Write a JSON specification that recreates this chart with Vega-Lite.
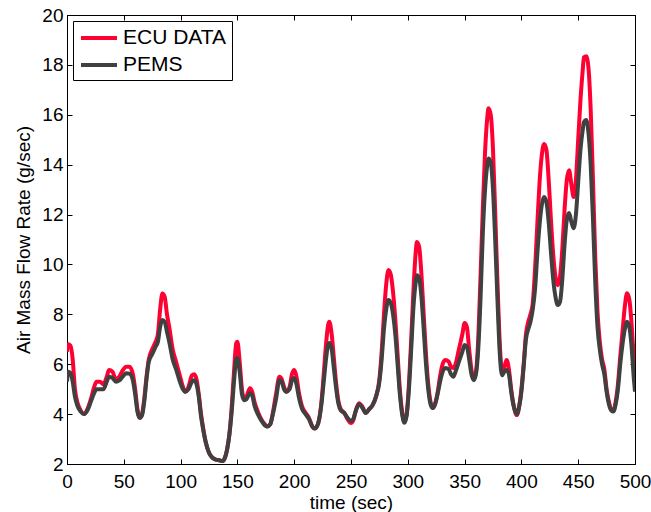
{
  "$schema": "https://vega.github.io/schema/vega-lite/v6.json",
  "autosize": "none",
  "width": 568,
  "height": 449,
  "padding": {"left": 67, "top": 15, "right": 16, "bottom": 48},
  "background": "white",
  "config": {
    "font": "Liberation Sans",
    "view": {"stroke": "black", "strokeWidth": 1},
    "axis": {
      "labelFont": "Liberation Sans",
      "titleFont": "Liberation Sans",
      "labelFontSize": 19,
      "titleFontSize": 19,
      "titleFontWeight": "normal",
      "labelColor": "black",
      "titleColor": "black",
      "domainColor": "black",
      "tickColor": "black",
      "tickSize": -5,
      "grid": false
    },
    "legend": {
      "labelFont": "Liberation Sans",
      "labelFontSize": 21,
      "labelColor": "black",
      "symbolType": "M-1.8,0H1.8",
      "symbolStrokeWidth": 4,
      "symbolSize": 400,
      "strokeColor": "black",
      "fillColor": "white",
      "padding": 5,
      "rowPadding": 5,
      "symbolOffset": 9,
      "labelOffset": 12
    }
  },
  "data": {
    "values": [
      {"t":0,"ecu":6.5,"pems":5.3},{"t":1,"ecu":6.8,"pems":5.7},{"t":3,"ecu":6.75,"pems":5.65},{"t":5,"ecu":6.2,"pems":5.3},{"t":7,"ecu":5.0,"pems":4.7},{"t":9,"ecu":4.5,"pems":4.35},{"t":12,"ecu":4.15,"pems":4.1},{"t":15,"ecu":4.0,"pems":4.0},{"t":18,"ecu":4.2,"pems":4.15},{"t":21,"ecu":4.6,"pems":4.5},{"t":24,"ecu":5.1,"pems":4.85},{"t":26,"ecu":5.3,"pems":5.0},{"t":29,"ecu":5.3,"pems":5.0},{"t":32,"ecu":5.2,"pems":5.0},{"t":35,"ecu":5.5,"pems":5.3},{"t":37,"ecu":5.77,"pems":5.5},{"t":40,"ecu":5.7,"pems":5.45},{"t":43,"ecu":5.4,"pems":5.3},{"t":46,"ecu":5.5,"pems":5.35},{"t":49,"ecu":5.75,"pems":5.5},{"t":52,"ecu":5.9,"pems":5.64},{"t":55,"ecu":5.9,"pems":5.62},{"t":58,"ecu":5.6,"pems":5.35},{"t":60,"ecu":5.0,"pems":4.8},{"t":62,"ecu":4.2,"pems":4.1},{"t":64,"ecu":3.85,"pems":3.85},{"t":66,"ecu":4.0,"pems":3.95},{"t":68,"ecu":4.6,"pems":4.5},{"t":70,"ecu":5.5,"pems":5.4},{"t":72,"ecu":6.2,"pems":6.1},{"t":75,"ecu":6.6,"pems":6.4},{"t":78,"ecu":6.9,"pems":6.7},{"t":80,"ecu":7.2,"pems":6.9},{"t":82,"ecu":8.2,"pems":7.5},{"t":84,"ecu":8.84,"pems":7.77},{"t":86,"ecu":8.7,"pems":7.7},{"t":88,"ecu":8.0,"pems":7.3},{"t":90,"ecu":7.5,"pems":6.9},{"t":93,"ecu":6.6,"pems":6.2},{"t":96,"ecu":6.1,"pems":5.8},{"t":99,"ecu":5.6,"pems":5.35},{"t":102,"ecu":5.1,"pems":5.0},{"t":104,"ecu":4.9,"pems":4.9},{"t":107,"ecu":5.1,"pems":5.0},{"t":110,"ecu":5.55,"pems":5.3},{"t":112,"ecu":5.6,"pems":5.36},{"t":114,"ecu":5.4,"pems":5.2},{"t":116,"ecu":4.8,"pems":4.7},{"t":118,"ecu":4.0,"pems":3.9},{"t":120,"ecu":3.4,"pems":3.35},{"t":122,"ecu":2.9,"pems":2.9},{"t":125,"ecu":2.45,"pems":2.45},{"t":128,"ecu":2.25,"pems":2.25},{"t":131,"ecu":2.18,"pems":2.18},{"t":134,"ecu":2.15,"pems":2.15},{"t":137,"ecu":2.12,"pems":2.12},{"t":139,"ecu":2.25,"pems":2.25},{"t":141,"ecu":2.6,"pems":2.6},{"t":143,"ecu":3.2,"pems":3.2},{"t":145,"ecu":4.3,"pems":4.1},{"t":147,"ecu":5.7,"pems":5.3},{"t":149,"ecu":6.85,"pems":6.2},{"t":150,"ecu":6.9,"pems":6.25},{"t":152,"ecu":6.1,"pems":5.7},{"t":154,"ecu":5.0,"pems":4.8},{"t":156,"ecu":4.6,"pems":4.56},{"t":158,"ecu":4.7,"pems":4.6},{"t":161,"ecu":5.04,"pems":4.84},{"t":163,"ecu":4.9,"pems":4.75},{"t":165,"ecu":4.5,"pems":4.35},{"t":168,"ecu":4.1,"pems":4.0},{"t":171,"ecu":3.8,"pems":3.75},{"t":174,"ecu":3.6,"pems":3.55},{"t":176,"ecu":3.5,"pems":3.5},{"t":179,"ecu":3.6,"pems":3.6},{"t":181,"ecu":4.0,"pems":3.95},{"t":184,"ecu":4.8,"pems":4.6},{"t":187,"ecu":5.5,"pems":5.36},{"t":189,"ecu":5.4,"pems":5.3},{"t":191,"ecu":5.1,"pems":5.0},{"t":193,"ecu":4.9,"pems":4.9},{"t":196,"ecu":5.1,"pems":5.0},{"t":198,"ecu":5.6,"pems":5.35},{"t":200,"ecu":5.77,"pems":5.45},{"t":202,"ecu":5.5,"pems":5.2},{"t":204,"ecu":4.9,"pems":4.7},{"t":207,"ecu":4.3,"pems":4.2},{"t":210,"ecu":4.05,"pems":4.0},{"t":213,"ecu":3.85,"pems":3.8},{"t":216,"ecu":3.5,"pems":3.5},{"t":218,"ecu":3.42,"pems":3.42},{"t":220,"ecu":3.5,"pems":3.5},{"t":222,"ecu":3.8,"pems":3.8},{"t":224,"ecu":4.5,"pems":4.4},{"t":226,"ecu":5.6,"pems":5.3},{"t":228,"ecu":6.8,"pems":6.2},{"t":230,"ecu":7.6,"pems":6.8},{"t":231,"ecu":7.7,"pems":6.85},{"t":233,"ecu":7.2,"pems":6.6},{"t":235,"ecu":6.2,"pems":5.8},{"t":237,"ecu":5.2,"pems":5.0},{"t":239,"ecu":4.5,"pems":4.4},{"t":241,"ecu":4.2,"pems":4.15},{"t":244,"ecu":4.05,"pems":4.05},{"t":247,"ecu":3.8,"pems":3.85},{"t":250,"ecu":3.64,"pems":3.72},{"t":252,"ecu":3.75,"pems":3.8},{"t":254,"ecu":4.1,"pems":4.1},{"t":257,"ecu":4.44,"pems":4.4},{"t":260,"ecu":4.3,"pems":4.25},{"t":263,"ecu":4.04,"pems":4.04},{"t":266,"ecu":4.2,"pems":4.2},{"t":269,"ecu":4.36,"pems":4.36},{"t":272,"ecu":4.7,"pems":4.7},{"t":275,"ecu":5.4,"pems":5.3},{"t":277,"ecu":6.5,"pems":6.2},{"t":279,"ecu":8.0,"pems":7.4},{"t":281,"ecu":9.2,"pems":8.2},{"t":283,"ecu":9.78,"pems":8.57},{"t":285,"ecu":9.6,"pems":8.45},{"t":287,"ecu":8.9,"pems":8.0},{"t":289,"ecu":7.8,"pems":7.2},{"t":291,"ecu":6.4,"pems":6.0},{"t":293,"ecu":5.0,"pems":4.8},{"t":295,"ecu":4.1,"pems":4.0},{"t":297,"ecu":3.7,"pems":3.65},{"t":299,"ecu":4.0,"pems":3.95},{"t":301,"ecu":5.2,"pems":5.0},{"t":303,"ecu":7.0,"pems":6.6},{"t":305,"ecu":9.0,"pems":8.3},{"t":307,"ecu":10.5,"pems":9.3},{"t":308,"ecu":10.9,"pems":9.57},{"t":310,"ecu":10.7,"pems":9.45},{"t":312,"ecu":9.6,"pems":8.7},{"t":314,"ecu":8.0,"pems":7.4},{"t":316,"ecu":6.4,"pems":6.0},{"t":318,"ecu":5.2,"pems":5.0},{"t":320,"ecu":4.5,"pems":4.4},{"t":322,"ecu":4.24,"pems":4.24},{"t":324,"ecu":4.4,"pems":4.4},{"t":326,"ecu":4.8,"pems":4.75},{"t":328,"ecu":5.4,"pems":5.2},{"t":330,"ecu":5.9,"pems":5.6},{"t":333,"ecu":6.17,"pems":5.85},{"t":336,"ecu":6.1,"pems":5.8},{"t":338,"ecu":5.9,"pems":5.6},{"t":340,"ecu":5.85,"pems":5.5},{"t":342,"ecu":6.0,"pems":5.7},{"t":345,"ecu":6.6,"pems":6.1},{"t":348,"ecu":7.2,"pems":6.5},{"t":350,"ecu":7.65,"pems":6.77},{"t":352,"ecu":7.5,"pems":6.7},{"t":354,"ecu":6.6,"pems":6.2},{"t":356,"ecu":5.8,"pems":5.6},{"t":358,"ecu":5.4,"pems":5.36},{"t":360,"ecu":5.7,"pems":5.6},{"t":362,"ecu":7.0,"pems":6.6},{"t":364,"ecu":9.5,"pems":8.6},{"t":366,"ecu":12.2,"pems":11.2},{"t":368,"ecu":14.5,"pems":13.0},{"t":370,"ecu":15.9,"pems":14.0},{"t":371,"ecu":16.26,"pems":14.25},{"t":373,"ecu":16.0,"pems":14.1},{"t":375,"ecu":14.6,"pems":13.0},{"t":377,"ecu":12.0,"pems":10.9},{"t":379,"ecu":9.2,"pems":8.5},{"t":381,"ecu":6.8,"pems":6.4},{"t":383,"ecu":5.7,"pems":5.56},{"t":385,"ecu":5.9,"pems":5.7},{"t":387,"ecu":6.17,"pems":5.77},{"t":389,"ecu":5.8,"pems":5.6},{"t":391,"ecu":5.0,"pems":4.9},{"t":393,"ecu":4.4,"pems":4.35},{"t":396,"ecu":3.96,"pems":4.0},{"t":398,"ecu":4.3,"pems":4.3},{"t":400,"ecu":5.0,"pems":4.9},{"t":402,"ecu":6.0,"pems":5.9},{"t":404,"ecu":7.2,"pems":7.0},{"t":406,"ecu":7.7,"pems":7.4},{"t":408,"ecu":8.0,"pems":7.7},{"t":410,"ecu":8.45,"pems":8.2},{"t":412,"ecu":9.8,"pems":9.0},{"t":414,"ecu":11.6,"pems":10.4},{"t":416,"ecu":13.3,"pems":11.6},{"t":418,"ecu":14.4,"pems":12.4},{"t":420,"ecu":14.83,"pems":12.7},{"t":422,"ecu":14.6,"pems":12.5},{"t":424,"ecu":13.4,"pems":11.7},{"t":426,"ecu":11.8,"pems":10.5},{"t":428,"ecu":10.4,"pems":9.4},{"t":430,"ecu":9.5,"pems":8.7},{"t":432,"ecu":9.17,"pems":8.37},{"t":434,"ecu":9.5,"pems":8.5},{"t":436,"ecu":10.6,"pems":9.4},{"t":438,"ecu":12.2,"pems":10.8},{"t":440,"ecu":13.4,"pems":11.8},{"t":442,"ecu":13.78,"pems":12.06},{"t":444,"ecu":13.2,"pems":11.7},{"t":446,"ecu":12.7,"pems":11.45},{"t":448,"ecu":13.4,"pems":12.0},{"t":450,"ecu":15.0,"pems":13.3},{"t":452,"ecu":16.6,"pems":14.6},{"t":454,"ecu":17.8,"pems":15.4},{"t":455,"ecu":18.3,"pems":15.7},{"t":457,"ecu":18.35,"pems":15.79},{"t":459,"ecu":17.9,"pems":15.3},{"t":461,"ecu":16.2,"pems":14.0},{"t":463,"ecu":13.4,"pems":11.8},{"t":465,"ecu":10.3,"pems":9.3},{"t":467,"ecu":8.1,"pems":7.5},{"t":469,"ecu":6.9,"pems":6.6},{"t":471,"ecu":6.2,"pems":6.0},{"t":473,"ecu":5.8,"pems":5.6},{"t":475,"ecu":5.0,"pems":4.9},{"t":477,"ecu":4.5,"pems":4.4},{"t":479,"ecu":4.2,"pems":4.15},{"t":481,"ecu":4.16,"pems":4.1},{"t":483,"ecu":4.5,"pems":4.4},{"t":485,"ecu":5.2,"pems":5.0},{"t":487,"ecu":6.3,"pems":6.0},{"t":489,"ecu":7.3,"pems":6.8},{"t":491,"ecu":8.3,"pems":7.4},{"t":493,"ecu":8.85,"pems":7.7},{"t":495,"ecu":8.6,"pems":7.5},{"t":497,"ecu":7.6,"pems":6.7},{"t":499,"ecu":6.2,"pems":5.4},{"t":500,"ecu":5.5,"pems":4.9}
    ]
  },
  "layer": [
    {
      "mark": {"type": "line", "strokeWidth": 4, "interpolate": "monotone", "clip": true},
      "encoding": {
        "x": {"field": "t", "type": "quantitative", "scale": {"domain": [0, 500], "nice": false, "zero": false},
              "axis": {"orient": "bottom", "title": "time (sec)", "values": [0,50,100,150,200,250,300,350,400,450,500], "labelPadding": 13, "titlePadding": 2, "labelFlush": false}},
        "y": {"field": "ecu", "type": "quantitative", "scale": {"domain": [2, 20], "nice": false, "zero": false},
              "axis": {"orient": "left", "title": "Air Mass Flow Rate (g/sec)", "values": [2,4,6,8,10,12,14,16,18,20], "labelPadding": 9, "titlePadding": 8, "labelFlush": false}},
        "color": {"datum": "ECU DATA", "type": "nominal",
                  "scale": {"domain": ["ECU DATA", "PEMS"], "range": ["#FF0033", "#404040"]},
                  "legend": {"title": null, "orient": "top-left", "offset": 6}}
      }
    },
    {
      "mark": {"type": "line", "strokeWidth": 4, "interpolate": "monotone", "clip": true},
      "encoding": {
        "x": {"field": "t", "type": "quantitative", "axis": null},
        "y": {"field": "pems", "type": "quantitative", "axis": null},
        "color": {"datum": "PEMS", "type": "nominal"}
      }
    },
    {
      "mark": {"type": "line", "opacity": 0},
      "encoding": {
        "x": {"field": "t", "type": "quantitative",
              "axis": {"orient": "top", "title": null, "labels": false, "values": [0,50,100,150,200,250,300,350,400,450,500]}},
        "y": {"field": "pems", "type": "quantitative",
              "axis": {"orient": "right", "title": null, "labels": false, "values": [2,4,6,8,10,12,14,16,18,20]}}
      }
    }
  ],
  "resolve": {"axis": {"x": "independent", "y": "independent"}}
}
